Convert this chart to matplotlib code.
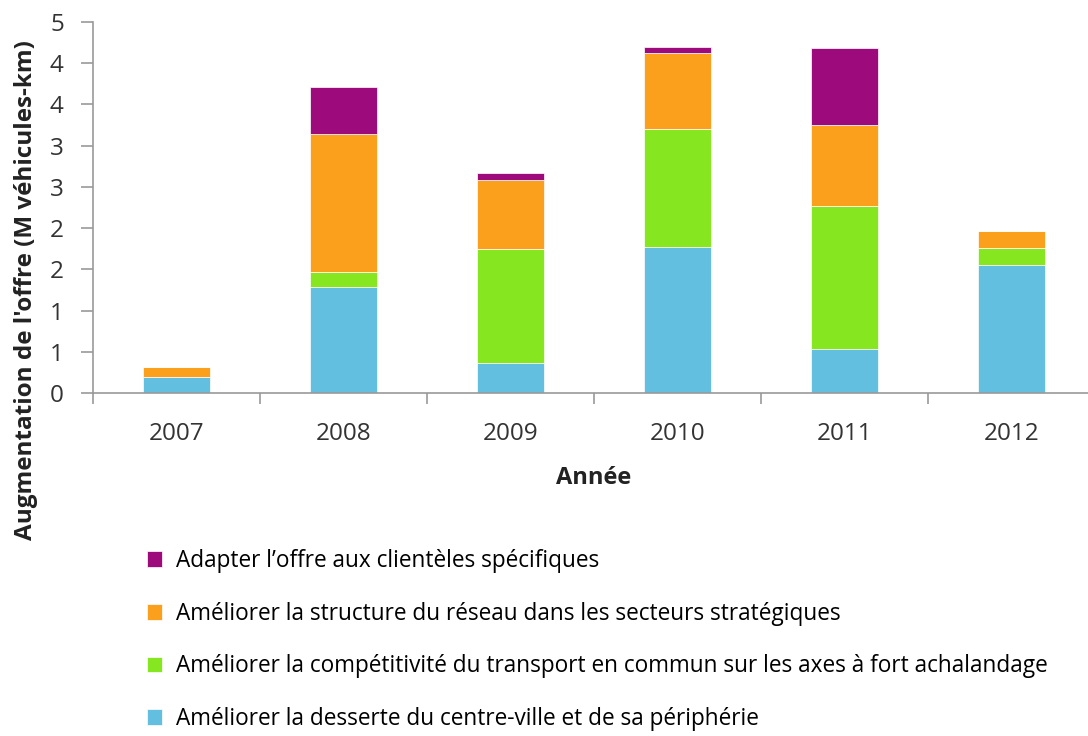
import matplotlib
matplotlib.use("Agg")
import matplotlib.pyplot as plt
import numpy as np

# Données (M véhicules-km)
annees = ["2007", "2008", "2009", "2010", "2011", "2012"]
desserte = [0.19, 1.29, 0.36, 1.77, 0.53, 1.55]
competitivite = [0.0, 0.18, 1.39, 1.43, 1.74, 0.21]
structure = [0.13, 1.67, 0.83, 0.93, 0.98, 0.21]
clienteles = [0.0, 0.57, 0.09, 0.07, 0.94, 0.0]

noms = [
    "Améliorer la desserte du centre-ville et de sa périphérie",
    "Améliorer la compétitivité du transport en commun sur les axes à fort achalandage",
    "Améliorer la structure du réseau dans les secteurs stratégiques",
    "Adapter l\u2019offre aux clientèles spécifiques",
]
couleurs = ["#63BFDF", "#86E61F", "#FBA01D", "#9C0A7C"]

plt.rcParams["font.family"] = ["Open Sans", "DejaVu Sans"]

fig = plt.figure(figsize=(10.88, 7.36), dpi=100)
ax = fig.add_axes([93 / 1088, 1 - 393 / 736, 1002 / 1088, 371 / 736])

x = np.arange(len(annees))
series = [desserte, competitivite, structure, clienteles]
bas = np.zeros(len(annees))
barres = []
for vals, nom, coul in zip(series, noms, couleurs):
    b = ax.bar(x, vals, width=0.4, bottom=bas, color=coul, label=nom,
               edgecolor="white", linewidth=0.5)
    barres.append(b)
    bas = bas + np.array(vals)

ax.set_xlim(-0.5, 5.5)
ax.set_ylim(0, 4.5)
yt = np.arange(0, 4.51, 0.5)
ax.set_yticks(yt)
# étiquettes arrondies comme dans l'original
ax.set_yticklabels([str(int(round(v + 0.01))) for v in yt])
ax.set_xticks(x)
ax.set_xticklabels(annees)
ax.set_xticks(np.arange(-0.5, 5.6, 1), minor=True)
ax.tick_params(axis="x", which="major", length=0, labelsize=17.5, pad=21, colors="#333333")
ax.tick_params(axis="x", which="minor", length=8, color="#999999", width=1.2)
ax.tick_params(axis="y", length=9, color="#999999", width=1.2, labelsize=17.5,
               colors="#333333", pad=12)
for s in ["top", "right"]:
    ax.spines[s].set_visible(False)
for s in ["left", "bottom"]:
    ax.spines[s].set_color("#999999")
    ax.spines[s].set_linewidth(1.2)

fig.text(594 / 1088, 1 - 478 / 736, "Année", ha="center", va="center",
         fontsize=17, fontweight="bold", color="#222222")
fig.text(26 / 1088, 1 - 290 / 736, "Augmentation de l'offre (M véhicules-km)",
         rotation=90, ha="center", va="center", fontsize=17.5,
         fontweight="bold", color="#222222")

handles = barres[::-1]
labels = noms[::-1]
fig.legend(handles, labels, loc="upper left",
           bbox_to_anchor=(136 / 1088, 1 - 538 / 736), frameon=False,
           handlelength=0.65, handleheight=0.7, handletextpad=0.6,
           labelspacing=1.26, borderpad=0,
           prop={"family": ["Open Sans", "DejaVu Sans"], "size": 16.3})

fig.savefig("out.png", dpi=100)
